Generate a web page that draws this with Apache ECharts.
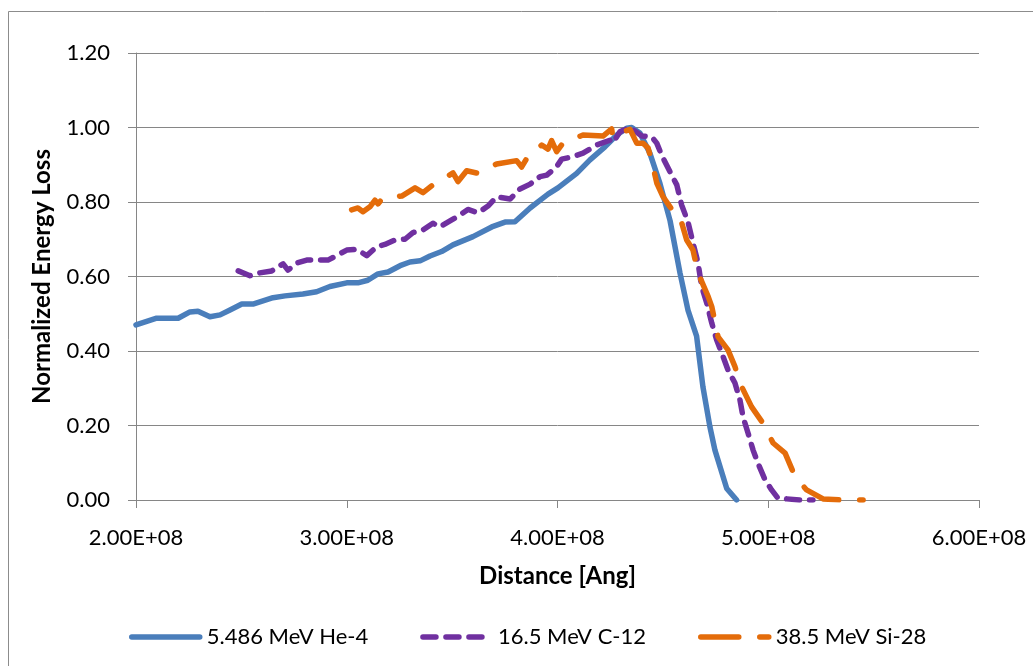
<!DOCTYPE html>
<html>
<head>
<meta charset="utf-8">
<script src="https://cdn.jsdelivr.net/npm/echarts@6/dist/echarts.min.js"></script>
<style>
html,body{margin:0;padding:0;background:#fff;}
#chart{width:1033px;height:666px;}
</style>
</head>
<body>
<div id="chart"></div>
<script>
// Distance [Ang] and normalized energy loss
const heX = [2.000e8,2.098e8,2.200e8,2.256e8,2.294e8,2.351e8,2.399e8,2.446e8,2.502e8,2.555e8,2.650e8,2.707e8,2.792e8,2.857e8,2.920e8,3.000e8,3.053e8,3.100e8,3.148e8,3.196e8,3.253e8,3.300e8,3.348e8,3.395e8,3.450e8,3.504e8,3.599e8,3.688e8,3.751e8,3.798e8,3.870e8,3.955e8,4.002e8,4.091e8,4.154e8,4.225e8,4.281e8,4.328e8,4.352e8,4.391e8,4.439e8,4.486e8,4.534e8,4.581e8,4.619e8,4.660e8,4.690e8,4.723e8,4.747e8,4.803e8,4.850e8];
const heY = [0.470,0.488,0.488,0.505,0.507,0.492,0.497,0.510,0.526,0.526,0.543,0.548,0.553,0.559,0.573,0.583,0.583,0.590,0.607,0.612,0.629,0.639,0.642,0.655,0.667,0.685,0.707,0.733,0.746,0.747,0.784,0.821,0.838,0.877,0.913,0.948,0.980,0.998,1.000,0.985,0.930,0.850,0.750,0.610,0.510,0.440,0.304,0.197,0.134,0.031,0.000];

const cX = [2.485e8,2.541e8,2.579e8,2.644e8,2.698e8,2.721e8,2.763e8,2.810e8,2.911e8,2.958e8,3.000e8,3.047e8,3.095e8,3.142e8,3.181e8,3.229e8,3.276e8,3.314e8,3.362e8,3.409e8,3.442e8,3.498e8,3.537e8,3.575e8,3.623e8,3.670e8,3.711e8,3.775e8,3.822e8,3.870e8,3.917e8,3.949e8,3.996e8,4.020e8,4.074e8,4.121e8,4.186e8,4.249e8,4.263e8,4.297e8,4.344e8,4.400e8,4.447e8,4.471e8,4.494e8,4.534e8,4.566e8,4.589e8,4.619e8,4.643e8,4.667e8,4.684e8,4.708e8,4.732e8,4.755e8,4.779e8,4.809e8,4.842e8,4.866e8,4.880e8,4.904e8,4.928e8,4.951e8,4.985e8,5.016e8,5.046e8,5.088e8,5.151e8,5.212e8];
const cY = [0.615,0.602,0.609,0.615,0.634,0.617,0.636,0.644,0.644,0.658,0.671,0.673,0.656,0.680,0.686,0.698,0.700,0.718,0.725,0.743,0.733,0.752,0.765,0.780,0.771,0.789,0.814,0.808,0.835,0.848,0.868,0.872,0.895,0.915,0.922,0.931,0.953,0.966,0.959,0.989,1.000,0.977,0.975,0.958,0.926,0.881,0.846,0.792,0.747,0.690,0.636,0.573,0.529,0.475,0.430,0.395,0.349,0.314,0.268,0.224,0.180,0.134,0.099,0.054,0.027,0.005,0.003,0.000,0.000];

const siX = [3.023e8,3.053e8,3.077e8,3.110e8,3.134e8,3.148e8,3.172e8,3.261e8,3.324e8,3.362e8,3.409e8,3.504e8,3.528e8,3.569e8,3.623e8,3.711e8,3.806e8,3.830e8,3.860e8,3.925e8,3.955e8,3.972e8,3.996e8,4.026e8,4.121e8,4.216e8,4.257e8,4.263e8,4.297e8,4.344e8,4.376e8,4.406e8,4.430e8,4.448e8,4.471e8,4.501e8,4.534e8,4.566e8,4.581e8,4.613e8,4.643e8,4.667e8,4.715e8,4.732e8,4.762e8,4.809e8,4.842e8,4.874e8,4.921e8,4.975e8,5.023e8,5.080e8,5.127e8,5.182e8,5.260e8,5.355e8,5.450e8];
const siY = [0.779,0.784,0.774,0.787,0.805,0.795,0.811,0.816,0.838,0.825,0.846,0.878,0.855,0.884,0.877,0.902,0.911,0.894,0.923,0.953,0.942,0.965,0.935,0.958,0.980,0.977,0.996,0.972,0.985,0.995,0.958,0.958,0.945,0.908,0.851,0.814,0.787,0.761,0.760,0.698,0.671,0.609,0.546,0.519,0.438,0.403,0.358,0.304,0.250,0.206,0.153,0.126,0.063,0.027,0.003,0.000,0.000];

const seriesNames = ['5.486 MeV He-4','16.5 MeV C-12','38.5 MeV Si-28'];
const xTicks = {min:2e8, max:6e8, interval:1e8};
const yTicks = {min:0, max:1.2, interval:0.2};

const pair = (xs, ys) => xs.map((x, i) => [x, ys[i]]);
const FONT = 'Lato';
const GRAY = '#868686';
const LW = 5.5;

const chart = echarts.init(document.getElementById('chart'), null, {renderer:'canvas'});
chart.setOption({
  animation:false,
  backgroundColor:'#fff',
  textStyle:{fontFamily:FONT},
  graphic:[{type:'rect', shape:{x:8.5,y:11.5,width:1100,height:800}, style:{fill:null, stroke:'#8c8c8c', lineWidth:1}, silent:true, z:-10}],
  grid:{left:136, right:54, top:53, bottom:166},
  xAxis:{
    type:'value', min:xTicks.min, max:xTicks.max, interval:xTicks.interval,
    name:'Distance [Ang]', nameLocation:'middle', nameGap:64,
    nameTextStyle:{fontFamily:FONT, fontWeight:'bold', fontSize:24, color:'#000'},
    axisLine:{show:true, onZero:false, lineStyle:{color:GRAY, width:1}},
    axisTick:{show:true, length:8, lineStyle:{color:GRAY}},
    splitLine:{show:false},
    axisLabel:{fontFamily:FONT, fontSize:22, color:'#000', margin:27,
      formatter:v => (v/1e8).toFixed(2) + 'E+08'}
  },
  yAxis:{
    type:'value', min:yTicks.min, max:yTicks.max, interval:yTicks.interval,
    name:'Normalized Energy Loss', nameLocation:'middle', nameGap:82, nameRotate:90,
    nameTextStyle:{fontFamily:FONT, fontWeight:'bold', fontSize:24, color:'#000'},
    axisLine:{show:true, lineStyle:{color:GRAY, width:1}},
    axisTick:{show:true, length:8, lineStyle:{color:GRAY}},
    splitLine:{show:true, lineStyle:{color:GRAY, width:1}},
    axisLabel:{fontFamily:FONT, fontSize:22, color:'#000', margin:26,
      formatter:v => v.toFixed(2)}
  },
  legend:{
    left:124, top:621, itemWidth:68, itemHeight:14, itemGap:52,
    itemStyle:{opacity:0},
    lineStyle:{width:LW, cap:'round'},
    textStyle:{fontFamily:FONT, fontSize:22, color:'#000', padding:[0,0,0,2]},
    data:seriesNames
  },
  series:[
    {name:seriesNames[0], type:'line', data:pair(heX, heY), showSymbol:false, symbol:'none',
     lineStyle:{color:'#4A7EBB', width:LW, cap:'round', join:'round'}, itemStyle:{color:'#4A7EBB'}, z:3},
    {name:seriesNames[1], type:'line', data:pair(cX, cY), showSymbol:false, symbol:'none',
     lineStyle:{color:'#7030A0', width:LW, type:[13,10], cap:'round', join:'round'}, itemStyle:{color:'#7030A0'}, z:4},
    {name:seriesNames[2], type:'line', data:pair(siX, siY), showSymbol:false, symbol:'none',
     lineStyle:{color:'#E46C0A', width:LW, type:[38,21], cap:'round', join:'round'}, itemStyle:{color:'#E46C0A'}, z:5}
  ]
});
</script>
</body>
</html>
